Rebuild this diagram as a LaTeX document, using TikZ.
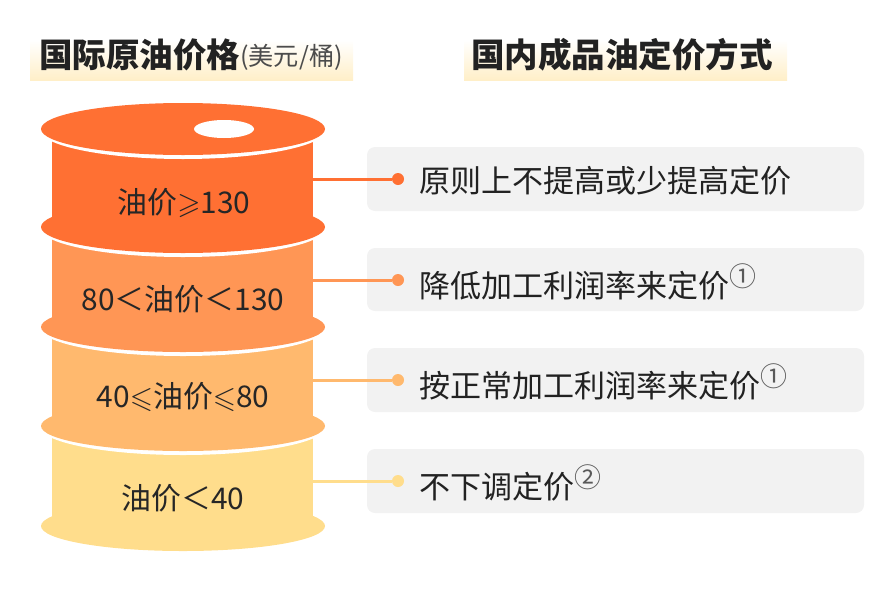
\documentclass[tikz,border=0pt]{standalone}
\usepackage{amsmath}
\usepackage{amssymb}
\usepackage{fontspec}
\setmainfont{Noto Sans CJK SC}
\usetikzlibrary{shapes,positioning}
\definecolor{tierA}{HTML}{FF7033}
\definecolor{tierB}{HTML}{FF9655}
\definecolor{tierC}{HTML}{FFB96E}
\definecolor{tierD}{HTML}{FFDD8C}
\definecolor{boxgray}{HTML}{F2F2F2}
\definecolor{titlebar}{HTML}{FFEFC8}
\definecolor{inkdark}{HTML}{222222}
\tikzstyle{heading} = [anchor=west, inner sep=0pt, text=inkdark, font=\fontsize{28.6}{30}\selectfont\bfseries]
\tikzstyle{price} = [inner sep=0pt, text=black!85, font=\fontsize{25.5}{28}\selectfont]
\tikzstyle{rule} = [anchor=west, inner sep=0pt, text=inkdark, font=\fontsize{26.5}{30}\selectfont]
\tikzstyle{dot} = [circle, minimum size=3.6mm, inner sep=0pt]
\tikzstyle{panel} = [rounded corners=2.4mm, fill=boxgray]
\tikzstyle{link} = [line width=0.9mm]
\newcommand{\notemark}[1]{\raisebox{3.4mm}{\fontsize{23}{24}\selectfont\color{black!65}#1}}
\begin{document}
\begin{tikzpicture}[x=0.3mm,y=-0.3mm]
		\useasboundingbox (0,0) rectangle (885,590);
		% titles
		\shade[top color=white, bottom color=titlebar] (30,40) rectangle (353,80);
		\shade[top color=white, bottom color=titlebar] (464,40) rectangle (787,80);
		\node[heading] (leftTitle) at (39,55) {国际原油价格};
		\node[anchor=west, inner sep=0pt, text=black!70, font=\fontsize{21.5}{22}\selectfont] (unit) at (240,57) {(美元/桶)};
		\node[heading] (rightTitle) at (471,55) {国内成品油定价方式};
		% barrel, bottom tier first
		\fill[tierD] (52,426) rectangle (313,526);
		\fill[tierD] (183,526) ellipse [x radius=142, y radius=25];
		\fill[white] (183,426) ellipse [x radius=144, y radius=29];
		\fill[tierC] (183,426) ellipse [x radius=142, y radius=25];
		\fill[tierC] (52,327) rectangle (313,426);
		\fill[white] (183,327) ellipse [x radius=144, y radius=29];
		\fill[tierB] (183,327) ellipse [x radius=142, y radius=25];
		\fill[tierB] (52,227) rectangle (313,327);
		\fill[white] (183,227) ellipse [x radius=144, y radius=30];
		\fill[tierA] (183,227) ellipse [x radius=142, y radius=26];
		\fill[tierA] (52,129) rectangle (313,227);
		\fill[white] (183,129) ellipse [x radius=144, y radius=30];
		\fill[tierA] (183,129) ellipse [x radius=142, y radius=26];
		\fill[white] (224,129) ellipse [x radius=30, y radius=9];
		\node[price] (p1) at (184,203) {油价$\geqslant$130};
		\node[price] (p2) at (183,299) {80＜油价＜130};
		\node[price] (p3) at (183,397) {40$\leqslant$油价$\leqslant$80};
		\node[price] (p4) at (183,498) {油价＜40};
		% right column
		\fill[panel] (367,147) rectangle (864,211);
		\fill[panel] (367,248) rectangle (864,311);
		\fill[panel] (367,348) rectangle (864,412);
		\fill[panel] (367,449) rectangle (864,513);
		\coordinate (c1) at (313,179);
		\coordinate (c2) at (313,280);
		\coordinate (c3) at (313,380);
		\coordinate (c4) at (313,481);
		\node[dot, fill=tierA] (d1) at (398,179) {};
		\node[dot, fill=tierB] (d2) at (398,280) {};
		\node[dot, fill=tierC] (d3) at (398,380) {};
		\node[dot, fill=tierD] (d4) at (398,481) {};
		\draw[tierA, link] (c1) to (d1);
		\draw[tierB, link] (c2) to (d2);
		\draw[tierC, link] (c3) to (d3);
		\draw[tierD, link] (c4) to (d4);
		\node[rule] (r1) at (419,181) {原则上不提高或少提高定价};
		\node[rule] (r2) at (419,282) {降低加工利润率来定价\notemark{①}};
		\node[rule] (r3) at (419,382) {按正常加工利润率来定价\notemark{①}};
		\node[rule] (r4) at (419,483) {不下调定价\notemark{②}};
		\end{tikzpicture}
\end{document}
